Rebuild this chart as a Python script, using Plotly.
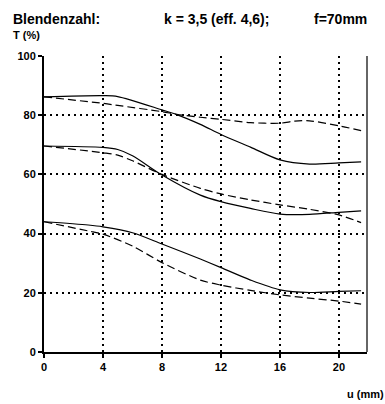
import plotly.graph_objects as go

# Data
u_top = [0, 4, 5, 8, 9, 10.6, 12, 14, 16, 18, 20, 21.5]
top_solid = [86.2, 86.6, 86.3, 81.8, 80.2, 76.9, 73.5, 69.2, 64.9, 63.5, 63.9, 64.2]
u_top_d = [0, 4, 5, 8, 9, 10.6, 12, 14, 16, 17, 18, 20, 21.5]
top_dashed = [86.2, 84.0, 83.3, 81.2, 80.3, 79.3, 78.6, 77.5, 77.3, 78.0, 78.1, 76.4, 74.8]

u_mid = [0, 4, 5, 6, 8, 10.6, 12, 14, 16, 18, 20, 21.5]
mid_solid = [69.6, 69.1, 68.4, 66.3, 59.8, 53.0, 50.8, 48.5, 46.6, 46.5, 47.2, 47.7]
mid_dashed = [69.6, 67.3, 66.5, 64.6, 60.0, 55.3, 53.4, 51.4, 49.7, 48.2, 46.3, 43.7]

u_bot = [0, 3, 4, 6, 8, 10.6, 12, 14, 16, 18, 20, 21.5]
bot_solid = [44.0, 42.9, 42.3, 40.3, 36.5, 31.4, 28.5, 24.3, 21.0, 20.1, 20.5, 20.7]
bot_dashed = [44.0, 40.9, 39.8, 35.8, 30.2, 24.3, 22.6, 20.8, 19.3, 18.2, 17.2, 16.2]

x_ticks = [0, 4, 8, 12, 16, 20]
y_ticks = [0, 20, 40, 60, 80, 100]

FONT = "Arial, Liberation Sans, sans-serif"

fig = go.Figure()
solid = dict(color="black", width=1.2)
dashed = dict(color="black", width=1.2, dash="8px,4px")
for xs, ys, ln in [
    (u_top, top_solid, solid), (u_top_d, top_dashed, dashed),
    (u_mid, mid_solid, solid), (u_mid, mid_dashed, dashed),
    (u_bot, bot_solid, solid), (u_bot, bot_dashed, dashed),
]:
    fig.add_trace(go.Scatter(x=xs, y=ys, mode="lines", line=dict(shape="spline", smoothing=0.8, **ln),
                             showlegend=False, hoverinfo="skip"))

fig.update_layout(
    width=385, height=404,
    margin=dict(l=44, r=18, t=56, b=52),
    paper_bgcolor="white", plot_bgcolor="white",
    font=dict(family=FONT, size=11, color="black"),
    showlegend=False,
)
fig.update_xaxes(
    range=[0, 21.9], tickvals=x_ticks, ticks="outside", ticklen=4, tickwidth=1.5, tickcolor="black",
    showline=True, linecolor="black", linewidth=2,
    showgrid=True, gridcolor="black", gridwidth=2, griddash="2px,4px",
    tickfont=dict(family=FONT, size=11, color="black", weight="bold"),
    zeroline=False,
)
fig.update_yaxes(
    range=[0, 100], tickvals=y_ticks, ticks="outside", ticklen=4, tickwidth=1.5, tickcolor="black",
    showline=True, linecolor="black", linewidth=2,
    showgrid=True, gridcolor="black", gridwidth=2, griddash="2px,4px",
    tickfont=dict(family=FONT, size=11, color="black", weight="bold"),
    zeroline=False,
)
# right border
fig.add_shape(type="line", xref="paper", yref="paper", x0=1, x1=1, y0=0, y1=1,
              line=dict(color="#333", width=1.5))

W, H = 323, 296
ann_font = dict(family=FONT, size=14, color="black", weight="bold")
fig.add_annotation(text="Blendenzahl:", xref="paper", yref="paper", x=(11-44)/W, y=(56-19)/H + 1,
                   xanchor="left", yanchor="middle", showarrow=False, font=ann_font)
fig.add_annotation(text="k = 3,5 (eff. 4,6);", xref="paper", yref="paper", x=(162-44)/W, y=(56-19)/H + 1,
                   xanchor="left", yanchor="middle", showarrow=False, font=ann_font)
fig.add_annotation(text="f=70mm", xref="paper", yref="paper", x=(369-44)/W, y=(56-19)/H + 1,
                   xanchor="right", yanchor="middle", showarrow=False, font=ann_font)
fig.add_annotation(text="T (%)", xref="paper", yref="paper", x=(11-44)/W, y=(56-35)/H + 1,
                   xanchor="left", yanchor="middle", showarrow=False,
                   font=dict(family=FONT, size=11, color="black", weight="bold"))
fig.add_annotation(text="u (mm)", xref="paper", yref="paper", x=(386-44)/W, y=-(394-352)/H,
                   xanchor="right", yanchor="middle", showarrow=False,
                   font=dict(family=FONT, size=11, color="black", weight="bold"))

fig.write_html("out.html")
